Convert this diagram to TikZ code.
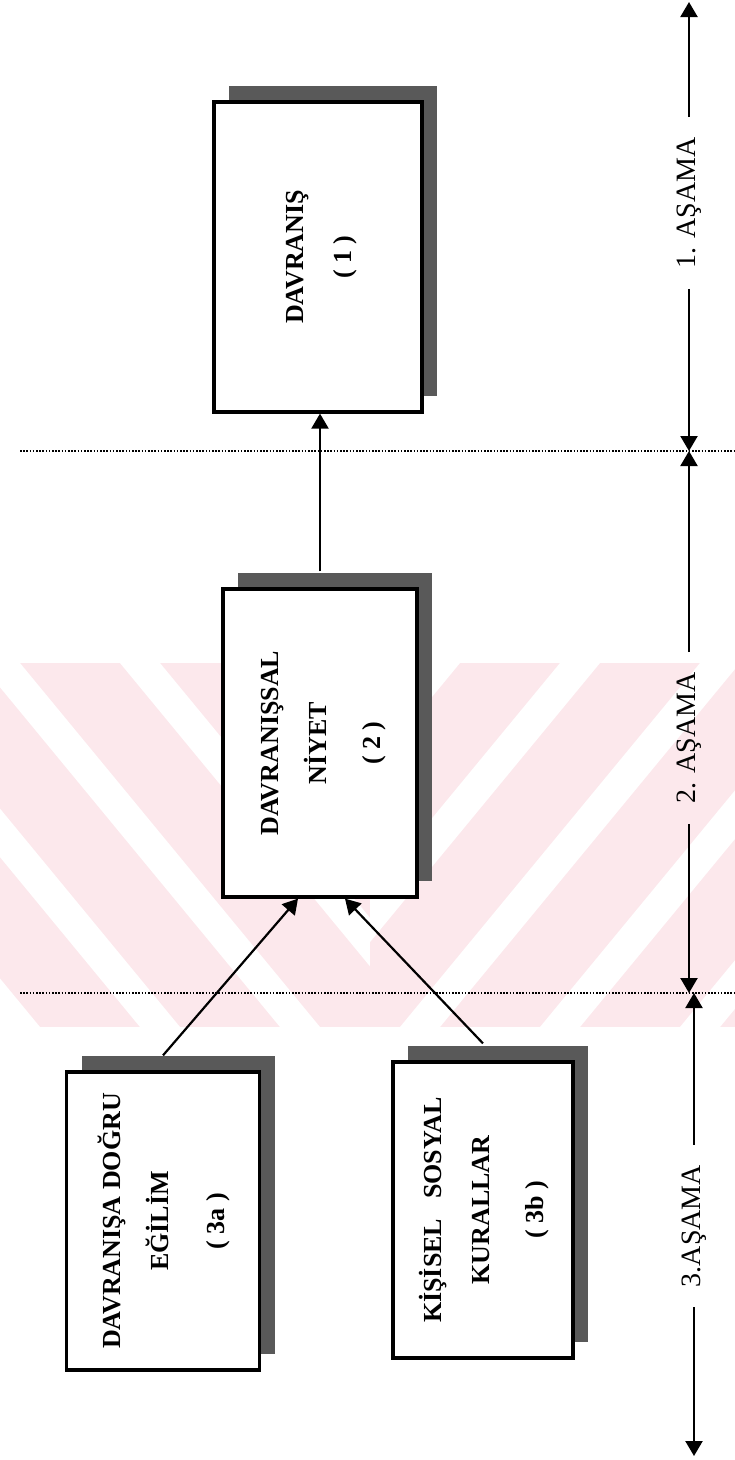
\documentclass[tikz,border=0pt]{standalone}
\usepackage{fontspec}
\setmainfont{Liberation Serif}
\usepackage{graphicx}
\usetikzlibrary{arrows.meta, shadows}

\definecolor{filigran}{HTML}{FCE8EC}

\newcommand{\kutuyazi}[1]{\rotatebox{90}{\fontsize{26}{48}\selectfont\bfseries
  \begin{tabular}{@{}c@{}}#1\end{tabular}}}

\begin{document}
\begin{tikzpicture}[x=1pt, y=-1pt, >={Triangle[length=15pt, width=17pt]},
  kutu/.style={draw, line width=3.2pt, fill=white, inner sep=0pt,
    drop shadow={shadow xshift=15pt, shadow yshift=16pt, fill=black!65, opacity=1}},
  ok/.style={->, line width=2.2pt},
  asama/.style={rotate=90, inner sep=0pt, font=\fontsize{28}{32}\selectfont},
  sinir/.style={line width=1.6pt, dash pattern=on 1.6pt off 1.6pt}]
  \useasboundingbox (0,0) rectangle (735,1460);
  % watermark band
  \begin{scope}
    \clip (0,663) rectangle (370,1027);
    \fill[filigran] (0,663) rectangle (370,1027);
    \foreach \s in {-300,-160,-20,120,260}
      \fill[white] (\s,663) -- ++(40,0) -- ++(300,364) -- ++(-40,0) -- cycle;
  \end{scope}
  \begin{scope}
    \clip (370,663) rectangle (735,1027);
    \fill[filigran] (370,663) rectangle (735,1027);
    \foreach \s in {420,560,700,840,980}
      \fill[white] (\s,663) -- ++(40,0) -- ++(-300,364) -- ++(-40,0) -- cycle;
  \end{scope}
  % stage borders
  \coordinate (d1a) at (20,451);
  \coordinate (d1b) at (735,451);
  \coordinate (d2a) at (20,993);
  \coordinate (d2b) at (735,993);
  \draw[sinir] (d1a) -- (d1b);
  \draw[sinir] (d2a) -- (d2b);
  % boxes
  \node[kutu, minimum width=208pt, minimum height=310pt] (b1) at (318,257)
    {\kutuyazi{DAVRANIŞ\\ ( 1 )}};
  \node[kutu, minimum width=194pt, minimum height=308pt] (b2) at (320,743)
    {\kutuyazi{DAVRANIŞSAL\\ NİYET\\[6pt] ( 2 )}};
  \node[kutu, minimum width=193pt, minimum height=298pt] (b3a) at (163,1221)
    {\kutuyazi{DAVRANIŞA DOĞRU\\ EĞİLİM\\[8pt] ( 3a )}};
  \node[kutu, minimum width=180pt, minimum height=296pt] (b3b) at (483,1210)
    {\kutuyazi{KİŞİSEL\hspace{20pt}SOSYAL\\ KURALLAR\\[6pt] ( 3b )}};
  \draw[ok] ([yshift=16pt]b2.north) -- (b2.north |- b1.south);
  \draw[ok] ([yshift=15pt]b3a.north) -- ([xshift=-22pt]b2.south);
  \draw[ok] ([yshift=17pt]b3b.north) -- ([xshift=25pt]b2.south);
  % stages
  \node[asama] (a1) at (689,203) {1. AŞAMA};
  \node[asama] (a2) at (689,738) {2. AŞAMA};
  \node[asama] (a3) at (694,1226) {3.AŞAMA};
  \coordinate (u0) at (689,2);
  \coordinate (u1) at (689,451);
  \coordinate (u2) at (689,993);
  \coordinate (u2b) at (694,993);
  \coordinate (u3) at (694,1456);
  \draw[ok] ([yshift=20pt]a1.east) -- (u0);
  \draw[ok] ([yshift=-20pt]a1.west) -- (u1);
  \draw[ok] ([yshift=20pt]a2.east) -- (u1);
  \draw[ok] ([yshift=-20pt]a2.west) -- (u2);
  \draw[ok] ([yshift=20pt]a3.east) -- (u2b);
  \draw[ok] ([yshift=-20pt]a3.west) -- (u3);
\end{tikzpicture}
\end{document}
